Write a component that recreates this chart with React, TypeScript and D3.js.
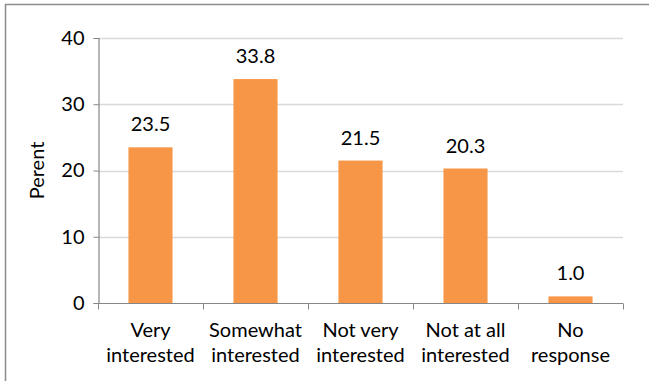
import React, { useEffect, useRef } from 'react';
import * as d3 from 'd3';

const categories = ['Very|interested', 'Somewhat|interested', 'Not very|interested', 'Not at all|interested', 'No|response'];
const percents = [23.5, 33.8, 21.5, 20.3, 1.0];
const yTicks = [0, 10, 20, 30, 40];

export default function App() {
  const svgRef = useRef<SVGSVGElement>(null);

  useEffect(() => {
    if (!svgRef.current) return;
    const root = d3.select(svgRef.current);
    root.selectAll('*').remove();

    const W = 649, H = 381;
    const font = 'Lato, sans-serif';
    const fs = 20;

    // outer frame
    root.append('rect')
      .attr('x', 5.5).attr('y', 4.5)
      .attr('width', W + 20).attr('height', H + 20)
      .attr('fill', 'white').attr('stroke', '#8c8c8c').attr('stroke-width', 1.5);

    const left = 98, right = 623, top = 38, bottom = 303;

    const x = d3.scaleBand<string>().domain(categories).range([left, right]).paddingInner(0.58).paddingOuter(0.29);
    const band = d3.scaleBand<string>().domain(categories).range([left, right]);
    const y = d3.scaleLinear().domain([0, 40]).range([bottom, top]);

    const g = root.append('g');

    // gridlines
    g.selectAll('.grid').data(yTicks.filter(t => t > 0)).enter().append('line')
      .attr('x1', left).attr('x2', right)
      .attr('y1', d => Math.round(y(d)) + 0.5).attr('y2', d => Math.round(y(d)) + 0.5)
      .attr('stroke', '#d9d9d9').attr('stroke-width', 1.5);

    // bars
    g.selectAll('.bar').data(percents).enter().append('rect')
      .attr('x', (d, i) => x(categories[i]) || 0)
      .attr('y', d => y(d))
      .attr('width', x.bandwidth())
      .attr('height', d => bottom - y(d))
      .attr('fill', '#f79646');

    // value labels
    g.selectAll('.val').data(percents).enter().append('text')
      .attr('x', (d, i) => (x(categories[i]) || 0) + x.bandwidth() / 2)
      .attr('y', d => y(d) - 16)
      .attr('text-anchor', 'middle')
      .attr('font-family', font).attr('font-size', fs).attr('fill', '#000')
      .text(d => d.toFixed(1));

    // y axis
    const yAxis = g.append('g').attr('transform', `translate(${left + 0.5},0)`)
      .call(d3.axisLeft(y).tickValues(yTicks).tickSize(5).tickPadding(9).tickFormat(d3.format('d')));
    yAxis.select('.domain').attr('stroke', '#868686').attr('stroke-width', 1.2);
    yAxis.selectAll('line').attr('stroke', '#868686');
    yAxis.selectAll('text').attr('font-family', font).attr('font-size', fs).attr('fill', '#000');

    // x axis
    const xAxis = g.append('g').attr('transform', `translate(0,${bottom + 0.5})`);
    xAxis.append('line').attr('x1', left).attr('x2', right).attr('stroke', '#868686').attr('stroke-width', 1.2);
    const edges = categories.map(c => band(c) || 0).concat([right]);
    xAxis.selectAll('.tk').data(edges).enter().append('line')
      .attr('x1', d => Math.round(d) + 0.5).attr('x2', d => Math.round(d) + 0.5)
      .attr('y1', 0).attr('y2', 6)
      .attr('stroke', '#868686');

    const labels = g.selectAll('.cat').data(categories).enter().append('text')
      .attr('text-anchor', 'middle')
      .attr('font-family', font).attr('font-size', fs).attr('fill', '#000');
    labels.each(function (d) {
      const cx = (band(d) || 0) + band.bandwidth() / 2;
      d.split('|').forEach((line, k) => {
        d3.select(this).append('tspan').attr('x', cx).attr('y', 337 + k * 25).text(line);
      });
    });

    // y title
    g.append('text')
      .attr('transform', `translate(44,${(top + bottom) / 2}) rotate(-90)`)
      .attr('text-anchor', 'middle')
      .attr('font-family', font).attr('font-size', fs).attr('fill', '#000')
      .text('Perent');
  }, []);

  return (
    <svg ref={svgRef} width={649} height={381} style={{ position: 'absolute', left: 0, top: 0 }}></svg>
  );
}
